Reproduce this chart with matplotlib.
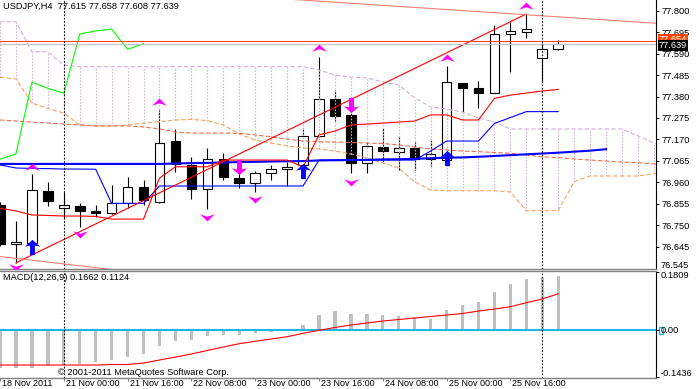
import matplotlib
matplotlib.use("Agg")
import matplotlib.pyplot as plt
import numpy as np
from matplotlib.path import Path
from matplotlib.transforms import blended_transform_factory

plt.rcParams['font.family'] = ['Liberation Sans', 'DejaVu Sans']
plt.rcParams['font.size'] = 6.7

# ---- data (H4 bars, index 0 = 18 Nov 08:00) ----
opens = [76.849, 76.658, 76.663, 76.918, 76.834, 76.844, 76.821, 76.808, 76.857, 76.936,
         76.865, 77.161, 77.045, 76.926, 77.073, 76.981, 76.955, 77.004, 77.024, 77.045,
         77.187, 77.368, 77.289, 77.053, 77.134, 77.110, 77.127, 77.073, 77.069, 77.445,
         77.423, 77.396, 77.686, 77.697, 77.567, 77.615]
highs = [76.862, 76.772, 77.001, 76.962, 76.914, 76.857, 76.849, 76.947, 76.987, 76.971,
         77.314, 77.220, 77.085, 77.126, 77.102, 77.004, 77.017, 77.045, 77.061, 77.224,
         77.575, 77.412, 77.309, 77.159, 77.224, 77.183, 77.159, 77.167, 77.529, 77.446,
         77.456, 77.730, 77.746, 77.784, 77.640, 77.658]
lows = [76.650, 76.566, 76.655, 76.844, 76.785, 76.743, 76.790, 76.806, 76.833, 76.849,
        76.857, 77.012, 76.877, 76.828, 76.971, 76.931, 76.914, 76.971, 76.942, 77.036,
        77.182, 77.260, 77.004, 77.004, 77.053, 77.020, 77.018, 77.040, 77.064, 77.306,
        77.322, 77.396, 77.501, 77.668, 77.445, 77.608]
closes = [76.658, 76.668, 76.922, 76.870, 76.849, 76.818, 76.808, 76.860, 76.936, 76.873,
          77.154, 77.048, 76.926, 77.073, 76.985, 76.955, 77.007, 77.024, 77.036, 77.187,
          77.366, 77.286, 77.053, 77.138, 77.115, 77.127, 77.073, 77.099, 77.450, 77.420,
          77.396, 77.686, 77.701, 77.710, 77.611, 77.639]

tenkan = [76.833, 76.820, 76.800, 76.798, 76.795, 76.795, 76.793, 76.780, 76.780, 76.780,
          76.981, 77.036, 77.036, 77.036, 77.069, 77.069, 77.069, 77.069, 77.069, 77.035,
          77.192, 77.211, 77.241, 77.245, 77.250, 77.255, 77.260, 77.290, 77.290, 77.265,
          77.265, 77.371, 77.387, 77.397, 77.407, 77.415]
kijun = [77.045, 77.030, 77.028, 77.027, 77.025, 77.025, 77.024, 76.857, 76.857, 76.857,
         76.942, 76.942, 76.942, 76.942, 76.942, 76.942, 76.942, 76.942, 76.942, 76.942,
         77.069, 77.069, 77.069, 77.069, 77.069, 77.069, 77.069, 77.113, 77.162, 77.162,
         77.162, 77.248, 77.277, 77.306, 77.306, 77.306]
# senkou spans, bars 0..42 (shifted ahead of price)
span_b = [77.746, 77.746, 77.599, 77.599, 77.534, 77.526, 77.526, 77.526, 77.526, 77.526,
          77.526, 77.526, 77.526, 77.526, 77.526, 77.526, 77.526, 77.526, 77.526, 77.526,
          77.510, 77.485, 77.475, 77.471, 77.452, 77.436, 77.373, 77.329, 77.319, 77.304,
          77.275, 77.255, 77.221, 77.221, 77.221, 77.221, 77.221, 77.221, 77.221, 77.221,
          77.187, 77.152, 77.118]
span_a = [77.474, 77.466, 77.348, 77.322, 77.298, 77.241, 77.236, 77.236, 77.241, 77.250,
          77.257, 77.265, 77.268, 77.262, 77.241, 77.197, 77.167, 77.152, 77.138, 77.128,
          77.123, 77.113, 77.099, 77.079, 77.055, 77.030, 76.962, 76.922, 76.919, 76.919,
          76.919, 76.919, 76.913, 76.821, 76.821, 76.821, 76.963, 76.991, 76.991, 76.991,
          76.991, 77.003, 77.011]
# shifted moving averages
ma_slow = [77.050, 77.050, 77.050, 77.050, 77.050, 77.050, 77.050, 77.050, 77.050, 77.050,
           77.050, 77.052, 77.054, 77.055, 77.057, 77.059, 77.060, 77.062, 77.063, 77.064,
           77.067, 77.068, 77.069, 77.070, 77.072, 77.073, 77.075, 77.078, 77.080, 77.082,
           77.085, 77.089, 77.093, 77.097, 77.101, 77.105, 77.110, 77.115, 77.122]
ma_dash = [77.265, 77.260, 77.255, 77.250, 77.245, 77.241, 77.236, 77.236, 77.236, 77.231,
           77.221, 77.206, 77.201, 77.201, 77.201, 77.200, 77.192, 77.183, 77.172, 77.162,
           77.159, 77.157, 77.155, 77.152, 77.150, 77.143, 77.133, 77.123, 77.118, 77.113,
           77.110, 77.106, 77.102, 77.094, 77.085, 77.081, 77.074, 77.069, 77.064, 77.059,
           77.056, 77.050, 77.045]

frac_up_bars = [2, 10, 20, 28, 33]
frac_up_price = [77.037, 77.355, 77.616, 77.567, 77.823]
frac_dn_bars = [1, 5, 13, 16, 22]
frac_dn_price = [76.545, 76.707, 76.792, 76.877, 76.962]
buy_bars = [2, 19, 28]
buy_price = [76.643, 77.015, 77.081]
sell_bars = [15, 22]
sell_price = [77.033, 77.339]

trend_up_bars = [1, 33]
trend_up_price = [76.566, 77.784]
trend_top_bars = [18, 42]
trend_top_price = [77.857, 77.734]
trend_low_bars = [0, 8]
trend_low_price = [76.597, 76.524]
hline_price = 77.654
bid_price = 77.639
sep_bars = [4, 34]

macd_hist = [-0.117, -0.115, -0.115, -0.109, -0.1068, -0.1028, -0.0966, -0.0923, -0.0812, -0.0738,
             -0.0474, -0.0329, -0.0308, -0.0185, -0.0145, -0.0145, -0.0083, -0.0043, 0.0049, 0.0163,
             0.0462, 0.0594, 0.0511, 0.0502, 0.0471, 0.0449, 0.0418, 0.0348, 0.0625, 0.0778,
             0.0871, 0.1188, 0.1425, 0.1578, 0.164, 0.1662]
macd_signal = [-0.1068, -0.1068, -0.1068, -0.1068, -0.1068, -0.1068, -0.1068, -0.1052, -0.1052, -0.1006,
               -0.0914, -0.0822, -0.0729, -0.0622, -0.0514, -0.0412, -0.0338, -0.0268, -0.0197, -0.0092,
               0.0, 0.0086, 0.0163, 0.0225, 0.0286, 0.0332, 0.0378, 0.0425, 0.0471, 0.0517,
               0.0594, 0.0655, 0.0726, 0.0849, 0.0963, 0.1124]

price_ticks = [77.800, 77.695, 77.590, 77.485, 77.380, 77.275, 77.170, 77.065, 76.960, 76.855,
               76.750, 76.645]
price_bottom = 76.545
macd_ticks = [0.1809, 0.0, -0.1436]
macd_tick_labels = ["0.1809", "0.00", "-0.1436"]
time_bars = [0, 4, 8, 12, 16, 20, 24, 28, 32]
time_labels = ["18 Nov 2011", "21 Nov 00:00", "21 Nov 16:00", "22 Nov 08:00", "23 Nov 00:00",
               "23 Nov 16:00", "24 Nov 08:00", "25 Nov 00:00", "25 Nov 16:00"]

W, H = 696, 389
fig = plt.figure(figsize=(W / 100, H / 100), dpi=100)
fig.patch.set_facecolor('white')
ax1 = fig.add_axes([0, 1 - 269 / H, 656 / W, 269 / H])
ax2 = fig.add_axes([0, 1 - 377.5 / H, 656 / W, 106.5 / H])

x = np.arange(len(opens))
kx = np.arange(len(span_a))

# candles
ax1.vlines(x, lows, highs, color='black', lw=0.8, zorder=2)
o = np.array(opens)
c = np.array(closes)
body_col = np.where(c >= o, 'white', 'black')
ax1.bar(x, c - o, bottom=o, width=0.6, color=body_col, edgecolor='black', linewidth=0.8, zorder=2.5)

# kumo
dot = (0, (1.4, 1.4))
dash = (0, (4, 2))
ax1.vlines(kx, span_a, span_b, colors='#d2b2d2', linestyles=dot, lw=0.8, zorder=3)
ax1.plot(kx, span_b, color='#d2b2d2', ls=dash, lw=0.8, zorder=3)
ax1.plot(kx, span_a, color='#f4a460', ls=dash, lw=0.8, zorder=3)
ax1.plot(np.arange(len(ma_dash)), ma_dash, color='#f86a4a', ls=dash, lw=0.8, zorder=3)

# lines
ax1.plot(np.arange(len(ma_slow)), ma_slow, color='#0000ff', lw=1.5, zorder=3.2)
ax1.plot(x, kijun, color='#0000ff', lw=0.8, zorder=3.3)
ax1.plot(x, tenkan, color='#ff0000', lw=0.8, zorder=3.3)
ax1.plot(x[:len(closes) - 26], closes[26:], color='#00ff00', lw=0.8, zorder=3.3)
ax1.plot(trend_up_bars, trend_up_price, color='#ff0000', lw=0.8, zorder=3.4)
ax1.plot(trend_top_bars, trend_top_price, color='#fa8072', lw=0.8, zorder=3.4)
ax1.plot(trend_low_bars, trend_low_price, color='#fa8072', lw=0.8, zorder=3.4)
ax1.axhline(hline_price, color='#ff4500', lw=0.8, zorder=3.4)
ax1.axhline(bid_price, color='#c0c0c0', lw=0.8, zorder=3.4)
for b in sep_bars:
    ax1.axvline(b, color='black', lw=0.8, ls=(0, (1.5, 1.5)), zorder=3.5)
    ax2.axvline(b, color='black', lw=0.8, ls=(0, (1.5, 1.5)), zorder=3.5)

# arrows
chev_up = Path([(0, 0.55), (1, -0.45), (0, -0.1), (-1, -0.45), (0, 0.55)],
               [Path.MOVETO, Path.LINETO, Path.LINETO, Path.LINETO, Path.CLOSEPOLY])
chev_dn = Path([(0, -0.55), (1, 0.45), (0, 0.1), (-1, 0.45), (0, -0.55)],
               [Path.MOVETO, Path.LINETO, Path.LINETO, Path.LINETO, Path.CLOSEPOLY])
arr_pts = [(0, 1), (1, 0.1), (0.32, 0.25), (0.32, -1), (-0.32, -1), (-0.32, 0.25), (-1, 0.1), (0, 1)]
arr_codes = [Path.MOVETO] + [Path.LINETO] * 6 + [Path.CLOSEPOLY]
arrow_up = Path(arr_pts, arr_codes)
arrow_dn = Path([(a, -b) for a, b in arr_pts], arr_codes)

ax1.plot(frac_up_bars, frac_up_price, ls='none', marker=chev_up, ms=10.5, mfc='#ff00ff', mec='none', zorder=4)
ax1.plot(frac_dn_bars, frac_dn_price, ls='none', marker=chev_dn, ms=10.5, mfc='#ff00ff', mec='none', zorder=4)
ax1.plot(buy_bars, buy_price, ls='none', marker=arrow_up, ms=11, mfc='#0000ff', mec='none', zorder=4)
ax1.plot(sell_bars, sell_price, ls='none', marker=arrow_dn, ms=11, mfc='#ff00ff', mec='none', zorder=4)

# macd
ax2.bar(x, macd_hist, width=0.21, color='#c0c0c0', zorder=2)
ax2.plot(x, macd_signal, color='#ff0000', lw=0.8, zorder=3)
ax2.axhline(0, color='#1eb4e6', lw=1.5, zorder=2.5)

# axes setup
xlim = (0, 41.13)
ax1.set_xlim(*xlim)
ax2.set_xlim(*xlim)
ax1.set_ylim(76.5357, 77.8524)
ax2.set_ylim(-0.1452, 0.1825)

for ax in (ax1, ax2):
    ax.set_facecolor('white')
    ax.spines['left'].set_visible(False)
    ax.spines['right'].set_color('black')
    ax.spines['right'].set_linewidth(0.8)
    ax.yaxis.tick_right()
    ax.tick_params(axis='y', right=True, left=False, length=2.5, width=0.7, pad=1.2,
                   labelsize=6.7, colors='black')
ax1.spines['top'].set_visible(False)
ax1.spines['bottom'].set_color('#808080')
ax1.spines['bottom'].set_linewidth(1.0)
ax2.spines['top'].set_color('#808080')
ax2.spines['top'].set_linewidth(1.0)
ax2.spines['bottom'].set_color('#808080')
ax2.spines['bottom'].set_linewidth(1.0)

ax1.set_yticks(price_ticks)
ax1.set_yticklabels([f"{v:.3f}" for v in price_ticks])
ax1.set_xticks([])

tr1 = blended_transform_factory(ax1.transAxes, ax1.transData)
tr2 = blended_transform_factory(ax2.transAxes, ax2.transData)
lab_x = 1 + 4.5 / 656

# bottom price label sits just above the window border
ax1.annotate(f"{price_bottom:.3f}", xy=(lab_x, price_bottom), xycoords=tr1, xytext=(0, 1.0),
             textcoords='offset points', va='center', ha='left', fontsize=6.7, annotation_clip=False)

# macd scale: ticks at values, labels kept inside the window
ax2.set_yticks(macd_ticks)
ax2.set_yticklabels([])
for v, lab, dy in zip(macd_ticks, macd_tick_labels, [-3.0, 0.0, 2.6]):
    ax2.annotate(lab, xy=(lab_x, v), xycoords=tr2, xytext=(0, dy), textcoords='offset points',
                 va='center', ha='left', fontsize=6.7, annotation_clip=False)

# time scale
ax2.set_xticks(time_bars)
ax2.set_xticklabels([])
ax2.tick_params(axis='x', length=2.5, width=0.7, color='#808080')
trx = blended_transform_factory(ax2.transData, ax2.transAxes)
for b, lab in zip(time_bars, time_labels):
    ax2.annotate(lab, xy=(b, 0), xycoords=trx, xytext=(1.5, -4.2), textcoords='offset points',
                 va='center', ha='left', fontsize=6.5, annotation_clip=False)

# price labels at right
ax1.annotate(f"{hline_price:.3f}", xy=(1.004, hline_price), xycoords=tr1, xytext=(0, 0.6),
             textcoords='offset points', va='center', ha='left', color='white', fontsize=6.7,
             bbox=dict(boxstyle='square,pad=0.08', fc='#ff4500', ec='none'), annotation_clip=False)
ax1.annotate(f"{bid_price:.3f}", xy=(1.004, bid_price), xycoords=tr1, xytext=(0, -1.4),
             textcoords='offset points', va='center', ha='left', color='white', fontsize=6.7,
             bbox=dict(boxstyle='square,pad=0.08', fc='black', ec='none'), annotation_clip=False)
ax2.add_patch(plt.Rectangle((1.0046, -0.0105), 0.0061, 0.021, transform=tr2, fill=False,
                            ec='#1eb4e6', lw=1.0, clip_on=False))

# texts
fig.text(3 / W, 1 - 6.5 / H, "USDJPY,H4  77.615 77.658 77.608 77.639", va='center', ha='left', fontsize=6.7)
fig.text(3 / W, 1 - 277.7 / H, "MACD(12,26,9) 0.1662 0.1124", va='center', ha='left', fontsize=6.7)
fig.text(58 / W, 1 - 372.7 / H, "\u00a9 2001-2011 MetaQuotes Software Corp.", va='center', ha='left', fontsize=6.7)

fig.savefig("out.png", dpi=100, facecolor='white')
